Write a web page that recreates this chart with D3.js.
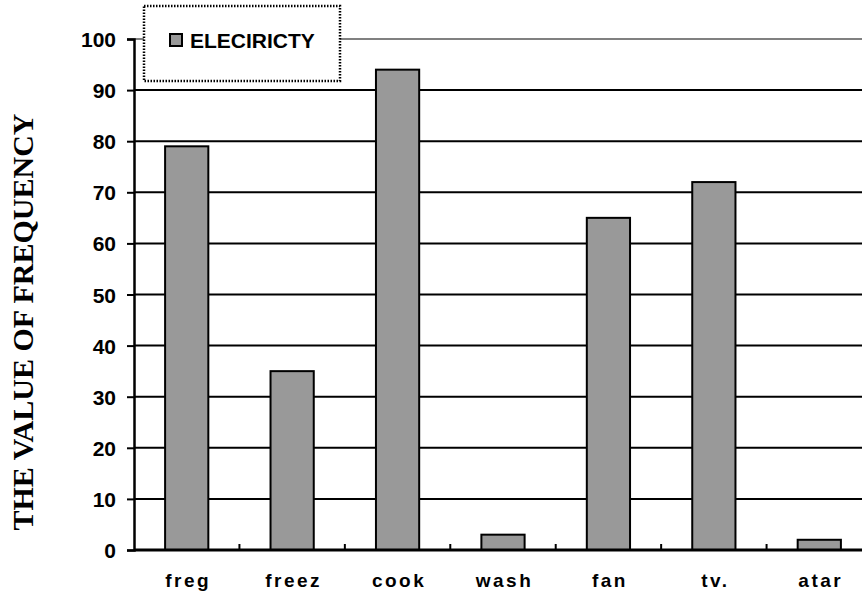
<!DOCTYPE html>
<html>
<head>
<meta charset="utf-8">
<script src="https://cdn.jsdelivr.net/npm/d3@7"></script>
<style>
  body { margin: 0; background: #fff; }
  svg text { font-family: Arial, "Liberation Sans", sans-serif; font-weight: bold; }
</style>
</head>
<body>
<svg id="chart" width="862" height="598"></svg>
<script>
// chart data
const categories = ["freg", "freez", "cook", "wash", "fan", "tv.", "atar"];
const values = [79, 35, 94, 3, 65, 72, 2];
const yTicks = [0, 10, 20, 30, 40, 50, 60, 70, 80, 90, 100];
const seriesName = "ELECIRICTY";

const margin = { top: 39, right: -10, bottom: 48, left: 134 },
  width = 862 - margin.left - margin.right,
  height = 598 - margin.top - margin.bottom;

const svg = d3.select("#chart");
const g = svg.append("g")
  .attr("transform", `translate(${margin.left},${margin.top})`);

const x = d3.scaleBand()
  .domain(categories)
  .range([0, width])
  .padding(0);

const y = d3.scaleLinear()
  .domain([0, 100])
  .range([height, 0]);

// gridlines
g.selectAll(".grid")
  .data(yTicks.filter(d => d > 0))
  .join("line")
  .attr("x1", 0).attr("x2", width)
  .attr("y1", d => y(d)).attr("y2", d => y(d))
  .attr("stroke", d => d === 100 ? "#808080" : "#000")
  .attr("stroke-width", 2);

// bars
const barW = x.bandwidth() * 0.41;
g.selectAll(".bar")
  .data(values)
  .join("rect")
  .attr("x", (d, i) => x(categories[i]) + (x.bandwidth() - barW) / 2)
  .attr("y", d => y(d))
  .attr("width", barW)
  .attr("height", d => y(0) - y(d))
  .attr("fill", "#999999")
  .attr("stroke", "#000")
  .attr("stroke-width", 2);

// y axis
const yAxis = g.append("g")
  .call(d3.axisLeft(y).tickValues(yTicks).tickSize(7).tickPadding(11));
yAxis.select(".domain").attr("stroke", "#000").attr("stroke-width", 2.5);
yAxis.selectAll(".tick line").attr("stroke", "#000").attr("stroke-width", 2);
yAxis.selectAll(".tick text")
  .attr("fill", "#000")
  .attr("dy", "0.36em")
  .style("font-size", "21px")
  .style("font-family", "Arial, 'Liberation Sans', sans-serif")
  .style("font-weight", "bold");

// x axis baseline
g.append("line")
  .attr("x1", 0).attr("x2", width)
  .attr("y1", y(0)).attr("y2", y(0))
  .attr("stroke", "#000").attr("stroke-width", 3);

// inner ticks between categories
g.selectAll(".xtick")
  .data(categories.slice(1))
  .join("line")
  .attr("x1", d => x(d)).attr("x2", d => x(d))
  .attr("y1", y(0)).attr("y2", y(0) - 6)
  .attr("stroke", "#000").attr("stroke-width", 2);

// x labels
g.selectAll(".xlabel")
  .data(categories)
  .join("text")
  .attr("x", d => x(d) + x.bandwidth() / 2 + 1.5)
  .attr("y", y(0) + 37)
  .attr("text-anchor", "middle")
  .style("font-size", "19px")
  .style("letter-spacing", "2.5px")
  .text(d => d);

// y title
svg.append("text")
  .attr("transform", "translate(33,322) rotate(-90)")
  .attr("text-anchor", "middle")
  .style("font-family", "'Liberation Serif', 'Times New Roman', serif")
  .style("font-size", "30px")
  .text("THE VALUE OF FREQUENCY");

// legend
const legend = svg.append("g").attr("transform", "translate(144,6)");
legend.append("rect")
  .attr("width", 196).attr("height", 75)
  .attr("fill", "#fff")
  .attr("stroke", "#000")
  .attr("stroke-width", 2.5)
  .attr("stroke-dasharray", "1.5,1.5");
legend.append("rect")
  .attr("x", 26).attr("y", 28)
  .attr("width", 12).attr("height", 12)
  .attr("fill", "#999999")
  .attr("stroke", "#000")
  .attr("stroke-width", 2);
legend.append("text")
  .attr("x", 46).attr("y", 42)
  .style("font-size", "21px")
  .text(seriesName);
</script>
</body>
</html>
